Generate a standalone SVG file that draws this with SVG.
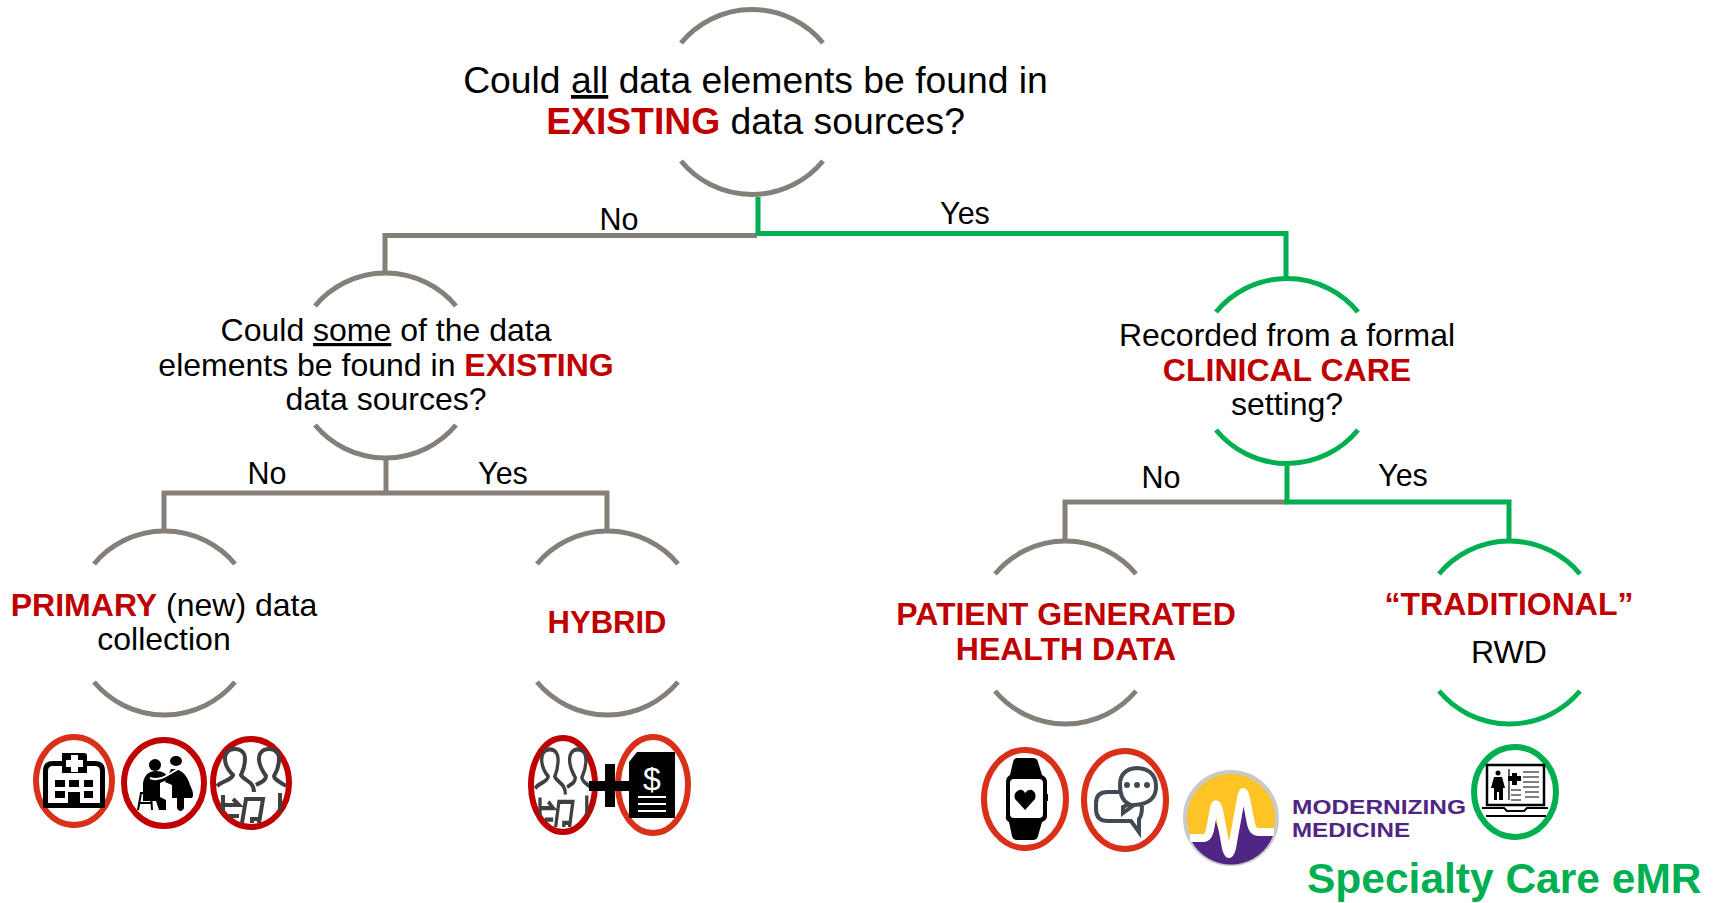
<svg xmlns="http://www.w3.org/2000/svg" width="1716" height="903" viewBox="0 0 1716 903">
<style>
text{font-family:"Liberation Sans",Arial,sans-serif;fill:#000;text-anchor:middle}
.t1{font-size:37.300px}.t2{font-size:32px}.t3{font-size:30.500px}
.r{fill:#c00000;font-weight:bold}
.g{fill:none;stroke:#857f79;stroke-width:5}
.n{fill:none;stroke:#00b050;stroke-width:5}
.e1{fill:#fff;stroke:#d9301a;stroke-width:6}
.e2{fill:#fff;stroke:#c00000;stroke-width:6}
.e3{fill:#fff;stroke:#00b050;stroke-width:6}
.k{fill:#000}.w{fill:#fff}
.p{fill:none;stroke:#404040;stroke-width:4}
</style>
<defs>
<g id="people"><path class="p" d="M-34 3C-28-3-20-2-18-8C-24-14-26-20-26-24C-26-30-22-34-16-34C-10-34-6-30-6-24C-6-18-8-12-10-8C-8-3 3-2 3 9"/><path class="p" d="M5 2C10-1 15-2 15-7C10-14 8-20 8-24C8-30 12-34 18-34C24-34 28-30 28-24C28-18 26-12 23-7C24-2 30-1 35 3"/><path class="p" d="M-28 12V29M-28 22H-12L-18 16M-22 33H-12M-9 40L-5 16H12L8 40M29 10V28M1 40V36H8V40"/></g>
</defs>
<g id="connectors">
<path class="g" d="M385 273V235.500H757"/>
<path class="n" d="M758 197V233.500H1286V279"/>
<path class="g" d="M386 459V493M164 531V493H607V531"/>
<path class="g" d="M1287 502H1065V541"/>
<path class="n" d="M1287 464V502H1509V541"/>
</g>
<g id="q-existing">
<path class="g" d="M681 43A92 92 0 0 1 823 43M681 161A92 92 0 0 0 823 161"/>
<text class="t1" x="755.500" y="93">Could <tspan text-decoration="underline">all</tspan> data elements be found in</text>
<text class="t1" x="755.500" y="134"><tspan class="r">EXISTING</tspan> data sources?</text>
</g>
<g id="q-some">
<path class="g" d="M315 306A92 92 0 0 1 456 306M315 425A92 92 0 0 0 456 425"/>
<text class="t2" x="386" y="341">Could <tspan text-decoration="underline">some</tspan> of the data</text>
<text class="t2" x="386" y="376">elements be found in <tspan class="r">EXISTING</tspan></text>
<text class="t2" x="386" y="410">data sources?</text>
</g>
<g id="q-clinical">
<path class="n" d="M1216 312A92 92 0 0 1 1358 312M1216 430A92 92 0 0 0 1358 430"/>
<text class="t2" x="1287" y="346">Recorded from a formal</text>
<text class="t2 r" x="1287" y="381">CLINICAL CARE</text>
<text class="t2" x="1287" y="415">setting?</text>
</g>
<g id="primary">
<path class="g" d="M94 564A92 92 0 0 1 235 564M94 682A92 92 0 0 0 235 682"/>
<text class="t2" x="164" y="616"><tspan class="r">PRIMARY</tspan> (new) data</text>
<text class="t2" x="164" y="650">collection</text>
<ellipse class="e1" cx="74" cy="781" rx="38" ry="44"/>
<path class="k" d="M43 808V771Q43 761 53 761H62V753Q62 753 65 753H84Q87 753 87 756V761H95Q105 761 105 771V808H43ZM48 803H68V792H80V803H100V771Q100 766 95 766H87V773H62V766H53Q48 766 48 771Z"/>
<path class="w" d="M71 755H78V760H83V767H78V772H71V767H66V760H71Z"/>
<path class="k" d="M55 780H65V787H55ZM69 780H79V787H69ZM84 780H93V787H84ZM55 791H65V798H55ZM84 791H93V798H84Z"/>
<ellipse class="e2" cx="164" cy="783" rx="40" ry="43"/>
<circle class="k" cx="155" cy="765" r="6"/><ellipse class="k" cx="176" cy="761" rx="6" ry="5"/>
<path class="k" d="M143 783Q145 771 156 771Q166 771 169 779L160 783V797L166 800V810H159L156 801H143ZM171 769Q185 768 190 785Q195 795 192 798H184V808Q183 811 180 811Q178 811 177 808V798H172V785L165 782Z"/>
<path d="M140 793H152M141 793L138 810M151 793L152 810M139 803H151" fill="none" stroke="#000" stroke-width="2"/>
<path d="M150 778Q158 781 166 776L178 769" fill="none" stroke="#fff" stroke-width="2"/>
<ellipse class="e2" cx="251" cy="783" rx="38" ry="44"/>
<use href="#people" transform="translate(251 783)"/>
</g>
<g id="hybrid">
<path class="g" d="M537 564A92 92 0 0 1 678 564M537 682A92 92 0 0 0 678 682"/>
<text class="r" x="607" y="633" style="font-size:31px">HYBRID</text>
<ellipse class="e2" cx="563" cy="785" rx="32" ry="47"/>
<use href="#people" transform="translate(563 785) scale(.82 1.050)"/>
<ellipse class="e1" cx="653" cy="785" rx="35" ry="48"/>
<path class="k" d="M589 781H605V764H615V781H633V791H615V807H605V791H589Z"/>
<path class="k" d="M637 752H675V818H629V762Z"/>
<text x="652" y="790" style="font-size:32px;fill:#fff;font-weight:normal">$</text>
<path d="M638 797H666M638 804H666M638 811H666" fill="none" stroke="#fff" stroke-width="2"/>
</g>
<g id="pghd">
<path class="g" d="M995 574A92 92 0 0 1 1136 574M995 691A92 92 0 0 0 1136 691"/>
<text class="t2 r" x="1066" y="625">PATIENT GENERATED</text>
<text class="t2 r" x="1066" y="660">HEALTH DATA</text>
<ellipse class="e1" cx="1025" cy="799" rx="41" ry="49"/>
<path class="k" d="M1017 758H1033Q1037 758 1038 762L1042 775Q1047 777 1047 782V794H1048V801H1047V816Q1047 820 1042 822L1038 836Q1037 840 1033 840H1017Q1013 840 1012 836L1009 822Q1005 820 1006 816V782Q1006 777 1010 775L1013 762Q1014 758 1017 758Z"/>
<rect class="w" x="1010" y="779" width="33" height="39" rx="4"/>
<path class="k" d="M1025 810L1015 799Q1013 793 1019 790Q1023 789 1025 793Q1028 789 1032 790Q1037 793 1035 799Z"/>
<ellipse class="e1" cx="1125" cy="800" rx="41" ry="49"/>
<path d="M1122 792H1108Q1096 792 1096 803V809Q1096 821 1108 821H1131L1139 832V819Q1142 816 1142 806" fill="none" stroke="#424a54" stroke-width="4"/>
<path d="M1123 807V813L1134 805Q1157 804 1156 785Q1155 769 1137 768Q1120 769 1120 785Q1120 800 1129 804Z" fill="#fff" stroke="#424a54" stroke-width="4"/>
<circle cx="1127" cy="785" r="3" fill="#424a54"/><circle cx="1137" cy="785" r="3" fill="#424a54"/><circle cx="1147" cy="785" r="3" fill="#424a54"/>
</g>
<g id="traditional">
<path class="n" d="M1439 574A92 92 0 0 1 1580 574M1439 691A92 92 0 0 0 1580 691"/>
<text class="r" x="1509" y="615" style="font-size:32px">“TRADITIONAL”</text>
<text class="t2" x="1509" y="663">RWD</text>
<g transform="translate(14 0)">
<ellipse class="e3" cx="1501" cy="792" rx="41" ry="45"/>
<rect x="1473" y="765" width="57" height="40" fill="#fff" stroke="#000" stroke-width="2.500"/>
<path d="M1468 808H1490L1493 811H1510L1513 808H1534M1472 816H1532" fill="none" stroke="#000" stroke-width="2"/>
<circle class="k" cx="1484" cy="773" r="2.500"/>
<path class="k" d="M1480 777H1488L1491 788H1489V800H1485V792H1483V800H1480V788H1477Z"/>
<path class="k" d="M1498 773H1503V776H1507V781H1503V785H1498V781H1494V776H1498Z"/>
<path d="M1495 769V800M1509 772H1525M1509 777H1525M1509 782H1525M1509 787H1525M1497 790H1507M1497 795H1507M1497 800H1507M1511 792H1525M1511 797H1525" fill="none" stroke="#000" stroke-width="1.200"/>
</g>
</g>
<g id="logo">
<circle cx="1231" cy="818" r="46" fill="#fec425" stroke="#c9c9c9" stroke-width="4"/>
<path d="M1192 842A45 45 0 0 0 1270 842L1274 834H1256L1243 803L1228 858L1214 816L1205 842Z" fill="#4f2683"/>
<path d="M1190 838H1204Q1208 838 1210 830L1214 808Q1216 800 1219 810L1226 848Q1229 860 1232 848L1241 798Q1243 786 1246 798L1251 824Q1253 832 1258 832H1274" fill="none" stroke="#fff" stroke-width="8"/>
<text x="1292" y="814" textLength="174" lengthAdjust="spacingAndGlyphs" style="text-anchor:start;font-size:21px;font-weight:bold;fill:#4f2683">MODERNIZING</text>
<text x="1292" y="837" textLength="118" lengthAdjust="spacingAndGlyphs" style="text-anchor:start;font-size:21px;font-weight:bold;fill:#4f2683">MEDICINE</text>
<text x="1307" y="893" style="text-anchor:start;font-size:42.500px;font-weight:bold;fill:#00b050">Specialty Care eMR</text>
</g>
<g id="labels">
<text class="t3" x="619" y="230">No</text>
<text class="t3" x="965" y="224">Yes</text>
<text class="t3" x="267" y="484">No</text>
<text class="t3" x="503" y="484">Yes</text>
<text class="t3" x="1161" y="488">No</text>
<text class="t3" x="1403" y="486">Yes</text>
</g>
</svg>
